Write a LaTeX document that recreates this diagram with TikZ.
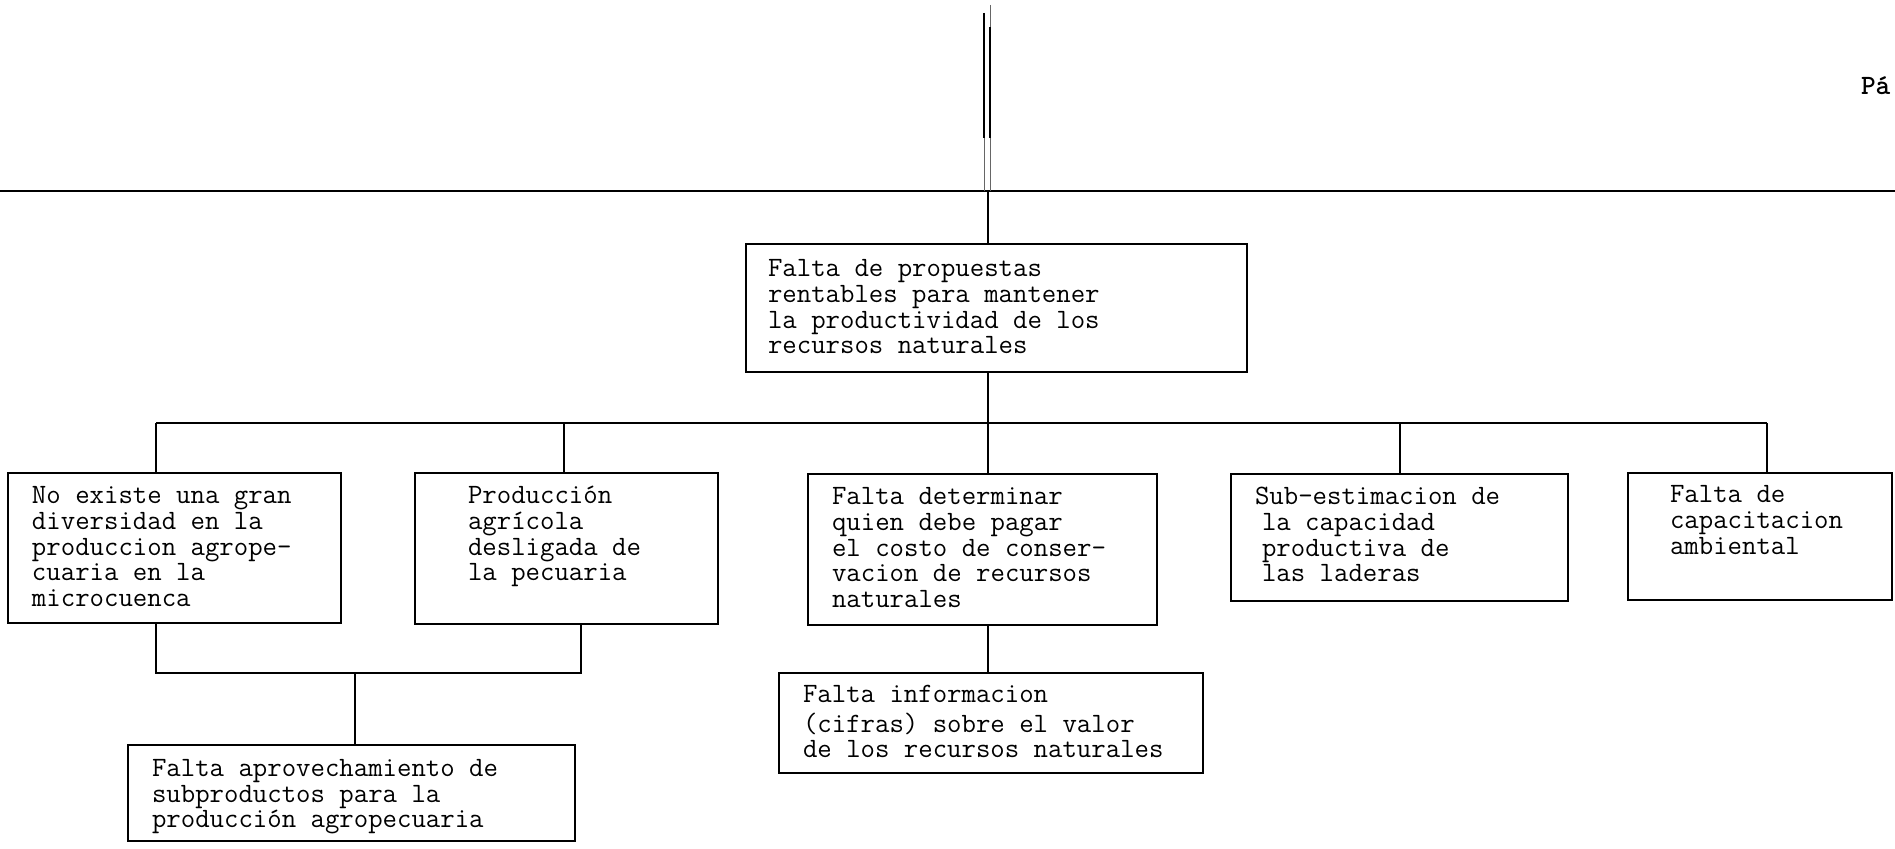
\documentclass[tikz,border=0pt]{standalone}
\usepackage{fontspec}
\usetikzlibrary{calc}
\begin{document}
\begin{tikzpicture}[x=0.5pt,y=-0.5pt,
  bx/.style 2 args={draw, line width=1pt, minimum width=#1*0.5pt, minimum height=#2*0.5pt, anchor=north west, inner sep=0pt, outer sep=0pt},
  tx/.style={anchor=north west, inner sep=0pt, outer sep=0pt, align=left, font=\fontsize{14}{12.8}\selectfont\ttfamily},
  ln/.style={line width=0.8pt},
  rule/.style={line width=1.2pt},
  faint/.style={line width=0.4pt, black!60},
]
\path[use as bounding box, fill=white] (0,0) rectangle (1895,849);

% page header
\draw[rule] (0,191) -- (1895,191);
\draw[line width=1.2pt] (984,13) -- (984,138);
\draw[line width=1.2pt] (990,27) -- (990,138);
\draw[faint] (990,5) -- (990,27);
\draw[faint] (984,138) -- (984,191);
\draw[faint] (990,138) -- (990,191);
\node[tx, anchor=base west, font=\fontsize{14}{12.8}\selectfont\ttfamily\bfseries] (pg) at (1861,95) {Pá};

% boxes
\node[bx={501}{128}] (top) at (746,244) {};
\node[bx={333}{150}] (b1) at (8,473) {};
\node[bx={303}{151}] (b2) at (415,473) {};
\node[bx={349}{151}] (b3) at (808,474) {};
\node[bx={337}{127}] (b4) at (1231,474) {};
\node[bx={264}{127}] (b5) at (1628,473) {};
\node[bx={447}{96}]  (b6) at (128,745) {};
\node[bx={424}{100}] (b7) at (779,673) {};

% texts
\node[tx] (t0) at ($(top.north west)+(22,15)$) {\strut Falta de propuestas\\rentables para mantener\\la productividad de los\\recursos naturales};
\node[tx] (t1) at ($(b1.north west)+(24,13)$) {\strut No existe una gran\\diversidad en la\\produccion agrope-\\cuaria en la\\microcuenca};
\node[tx] (t2) at ($(b2.north west)+(53,13)$) {\strut Producción\\agrícola\\desligada de\\la pecuaria};
\node[tx] (t3) at ($(b3.north west)+(24,13)$) {\strut Falta determinar\\quien debe pagar\\el costo de conser-\\vacion de recursos\\naturales};
\node[tx] (t4) at ($(b4.north west)+(24,13)$) {\strut Sub-estimacion de\\\hspace*{3.5pt}la capacidad\\\hspace*{3.5pt}productiva de\\\hspace*{3.5pt}las laderas};
\node[tx] (t5) at ($(b5.north west)+(42,12)$) {\strut Falta de\\capacitacion\\ambiental};
\node[tx] (t6) at ($(b6.north west)+(24,13.5)$) {\strut Falta aprovechamiento de\\subproductos para la\\producción agropecuaria};
\node[tx] (t7) at ($(b7.north west)+(24,12)$) {\strut Falta informacion\\(cifras) sobre el valor\\de los recursos naturales};

% connector points
\coordinate (tail) at (988,191);
\coordinate (d1) at (156,423);
\coordinate (d2) at (564,423);
\coordinate (d3) at (988,423);
\coordinate (d4) at (1400,423);
\coordinate (d5) at (1767,423);
\coordinate (m1) at (156,673);
\coordinate (m2) at (581,673);
\coordinate (m3) at (355,673);

% connectors
\draw[ln] (tail) -- (tail |- top.north);
\draw[ln] (top.south -| d3) -- (d3);
\draw[ln] (d1) -- (d5);
\draw[ln] (d1) -- (d1 |- b1.north);
\draw[ln] (d2) -- (d2 |- b2.north);
\draw[ln] (d3) -- (d3 |- b3.north);
\draw[ln] (d4) -- (d4 |- b4.north);
\draw[ln] (d5) -- (d5 |- b5.north);
\draw[ln] (b1.south -| m1) -- (m1) -- (m2) -- (b2.south -| m2);
\draw[ln] (m3) -- (m3 |- b6.north);
\draw[ln] (b3.south -| d3) -- (b7.north -| d3);
\end{tikzpicture}
\end{document}
